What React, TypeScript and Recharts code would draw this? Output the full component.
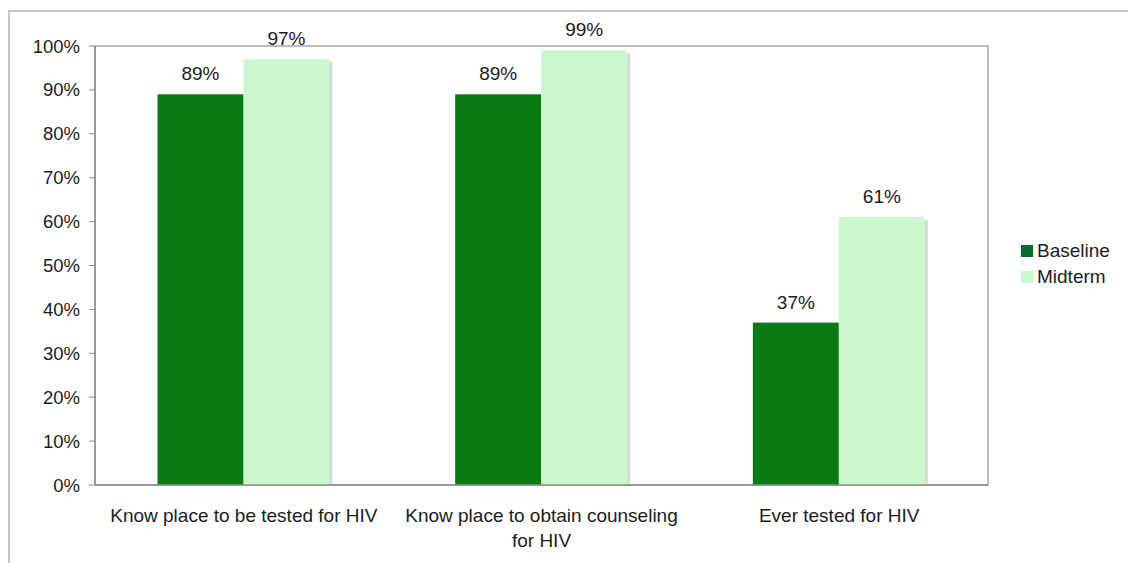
import React from "react";
import { Bar, BarChart, LabelList, ReferenceArea, XAxis, YAxis } from "recharts";

const categories = [
  "Know place to be tested for HIV",
  "Know place to obtain counseling for HIV",
  "Ever tested for HIV",
];
const categoryLines = [
  ["Know place to be tested for HIV"],
  ["Know place to obtain counseling", "for HIV"],
  ["Ever tested for HIV"],
];
const baseline = [89, 89, 37];
const midterm = [97, 99, 61];
const yTicks = [0, 10, 20, 30, 40, 50, 60, 70, 80, 90, 100];
const seriesNames = ["Baseline", "Midterm"];

const data = categories.map((name, i) => ({
  name,
  baseline: baseline[i],
  midterm: midterm[i],
}));

const FONT = "'Liberation Sans', Arial, sans-serif";
const TEXT = "#1c1c1c";
const DARK = "#0a7a13";
const LIGHT = "#c9f8cc";
const FS = 19;

const ShadowBar = (props: any) => {
  const { x, y, width, height, fill } = props;
  if (!height || height <= 0) return null;
  return (
    <g>
      <rect x={x + 3} y={y + 3} width={width} height={height - 3} fill="#b8b8b8" opacity={0.55} />
      <rect x={x} y={y} width={width} height={height} fill={fill} />
    </g>
  );
};

const CategoryTick = (props: any) => {
  const { x, y, index } = props;
  const lines = categoryLines[index] ?? [];
  return (
    <g transform={`translate(${x},${y})`}>
      {lines.map((l, i) => (
        <text key={i} x={0} y={29 + i * 25} textAnchor="middle" fill={TEXT} fontSize={FS} fontFamily={FONT}>
          {l}
        </text>
      ))}
    </g>
  );
};

const legendColors = ["#0a6e2a", LIGHT];

export default function App() {
  return (
    <div style={{ position: "absolute", left: 0, top: 0, width: 1128, height: 563, background: "#fff" }}>
      <div
        style={{
          position: "absolute",
          left: 8,
          top: 10,
          right: 0,
          bottom: 0,
          borderTop: "2px solid #c4c4c4",
          borderLeft: "2px solid #c4c4c4",
        }}
      />
      <BarChart
        width={1128}
        height={563}
        data={data}
        margin={{ top: 46, right: 140, bottom: 0, left: 0 }}
        barCategoryGap="21%"
        barGap={0}
        style={{ position: "absolute", left: 0, top: 0 }}
      >
        <XAxis
          dataKey="name"
          axisLine={{ stroke: "#8c8c8c", strokeWidth: 1.5 }}
          tickLine={false}
          tick={<CategoryTick />}
          height={78}
          interval={0}
        />
        <YAxis
          domain={[0, 100]}
          ticks={yTicks}
          tickFormatter={(v) => `${v}%`}
          width={95}
          tickSize={6}
          tickMargin={9}
          axisLine={{ stroke: "#8c8c8c", strokeWidth: 1.5 }}
          tickLine={{ stroke: "#8c8c8c" }}
          tick={{ fill: TEXT, fontSize: FS - 0.5, fontFamily: FONT }}
        />
        <ReferenceArea y1={0} y2={100} fill="none" stroke="#a8a8a8" strokeWidth={1.5} ifOverflow="visible" />
        <Bar dataKey="baseline" name="Baseline" fill={DARK} shape={<ShadowBar />} isAnimationActive={false}>
          <LabelList
            dataKey="baseline"
            position="top"
            offset={14}
            formatter={(v: any) => `${v}%`}
            style={{ fill: TEXT, fontSize: FS, fontFamily: FONT }}
          />
        </Bar>
        <Bar dataKey="midterm" name="Midterm" fill={LIGHT} shape={<ShadowBar />} isAnimationActive={false}>
          <LabelList
            dataKey="midterm"
            position="top"
            offset={14}
            formatter={(v: any) => `${v}%`}
            style={{ fill: TEXT, fontSize: FS, fontFamily: FONT }}
          />
        </Bar>
      </BarChart>
      <div style={{ position: "absolute", left: 1021, top: 238, fontFamily: FONT, fontSize: FS, color: TEXT }}>
        {seriesNames.map((label, i) => (
          <div key={label} style={{ display: "flex", alignItems: "center", height: 26 }}>
            <span style={{ width: 12, height: 12, background: legendColors[i], marginRight: 4 }} />
            {label}
          </div>
        ))}
      </div>
    </div>
  );
}
